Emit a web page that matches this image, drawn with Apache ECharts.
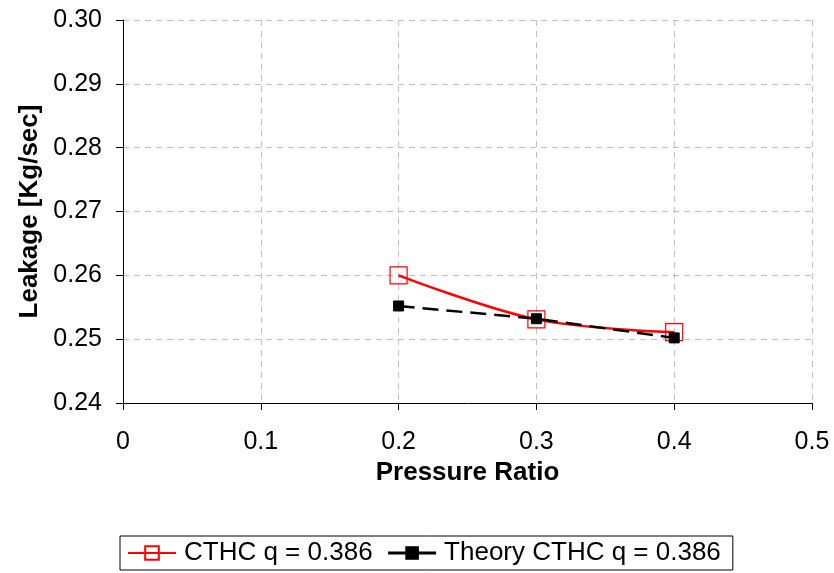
<!DOCTYPE html>
<html>
<head>
<meta charset="utf-8">
<script src="https://cdn.jsdelivr.net/npm/echarts@6/dist/echarts.min.js"></script>
<style>html,body{margin:0;padding:0;background:#fff}#c{width:834px;height:573px}</style>
</head>
<body>
<div id="c"></div>
<script>
// Leakage vs pressure ratio
const pressureRatio = [0.2, 0.3, 0.4];
const cthcLeakage = [0.2600, 0.2531, 0.2511];
const theoryLeakage = [0.2552, 0.2532, 0.2502];
const seriesNames = ['CTHC q = 0.386', 'Theory CTHC q = 0.386'];

const font = '"Liberation Sans", Arial, sans-serif';
const chart = echarts.init(document.getElementById('c'));
const gridLine = { show: true, lineStyle: { color: '#c0c0c0', type: [6, 5], width: 1 } };

chart.setOption({
  animation: false,
  backgroundColor: '#fff',
  grid: { left: 123, right: 22, top: 20, bottom: 170 },
  xAxis: {
    type: 'value', min: 0, max: 0.5, interval: 0.1,
    name: 'Pressure Ratio', nameLocation: 'middle', nameGap: 56,
    nameTextStyle: { fontFamily: font, fontSize: 26, fontWeight: 'bold', color: '#000' },
    axisLine: { show: true, lineStyle: { color: '#000', width: 1 } },
    axisTick: { show: true, length: 7, lineStyle: { color: '#000' } },
    axisLabel: { fontFamily: font, fontSize: 25, color: '#000', margin: 27,
      formatter: v => (Math.round(v * 10) / 10).toString() },
    splitLine: gridLine
  },
  yAxis: {
    type: 'value', min: 0.24, max: 0.30, interval: 0.01,
    name: 'Leakage [Kg/sec]', nameLocation: 'middle', nameGap: 78, nameRotate: 90,
    nameTextStyle: { fontFamily: font, fontSize: 26, fontWeight: 'bold', color: '#000' },
    axisLine: { show: true, lineStyle: { color: '#000', width: 1 } },
    axisTick: { show: true, length: 7, lineStyle: { color: '#000' } },
    axisLabel: { fontFamily: font, fontSize: 25, color: '#000', margin: 21,
      formatter: v => v.toFixed(2) },
    splitLine: gridLine
  },
  legend: {
    bottom: 3, left: 120,
    padding: [4, 12, 4, 7],
    borderColor: '#000', borderWidth: 1,
    itemWidth: 48, itemHeight: 17, itemGap: 14,
    textStyle: { fontFamily: font, fontSize: 26, color: '#000', padding: [0, 0, 0, 3] },
    data: [
      { name: seriesNames[0] },
      { name: seriesNames[1], lineStyle: { type: 'solid', width: 3 } }
    ]
  },
  series: [
    {
      name: seriesNames[0], type: 'line', smooth: 0.35,
      data: pressureRatio.map((x, i) => [x, cthcLeakage[i]]),
      lineStyle: { color: '#ff0000', width: 2.5 },
      symbol: 'rect', symbolSize: 17,
      itemStyle: { color: 'rgba(255,255,255,0)', borderColor: '#ff0000', borderWidth: 1.2 },
      z: 2
    },
    {
      name: seriesNames[1], type: 'line',
      data: pressureRatio.map((x, i) => [x, theoryLeakage[i]]),
      lineStyle: { color: '#000', width: 2.5, type: [16, 8] },
      symbol: 'rect', symbolSize: 10,
      itemStyle: { color: '#000', borderColor: '#000' },
      z: 3
    }
  ]
});
</script>
</body>
</html>
